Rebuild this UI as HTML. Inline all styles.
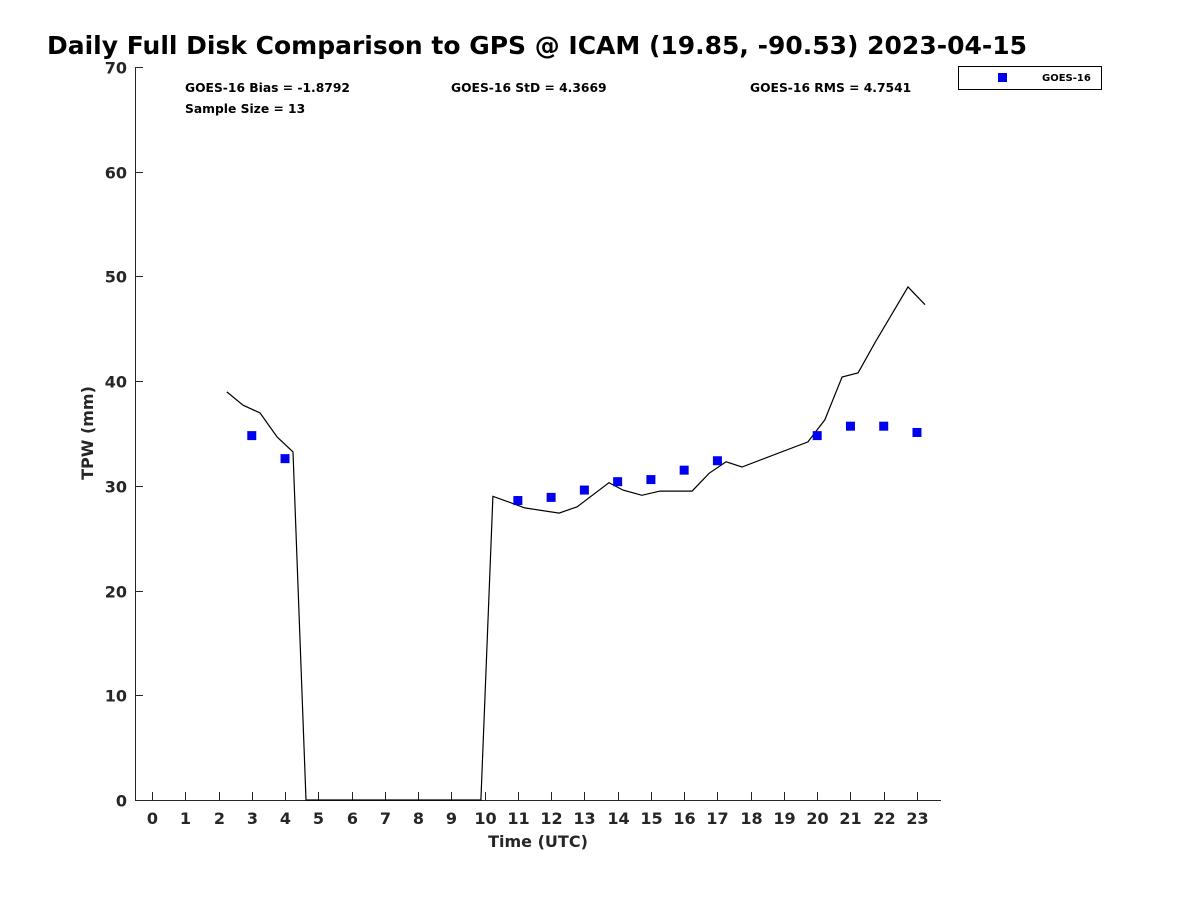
<!DOCTYPE html>
<html><head><meta charset="utf-8"><style>
body{margin:0;background:#fff;}
svg{display:block;font-family:"DejaVu Sans","Liberation Sans",sans-serif;font-weight:bold;}
</style></head><body>
<svg width="1200" height="900" viewBox="0 0 1200 900">
<text x="47" y="54" font-size="25" fill="#000" textLength="980" lengthAdjust="spacingAndGlyphs">Daily Full Disk Comparison to GPS @ ICAM (19.85, -90.53) 2023-04-15</text>
<g id="axes"></g>
<g id="marks"></g>
<text x="185" y="92" font-size="12.3">GOES-16 Bias = -1.8792</text>
<text x="185" y="113" font-size="12.3">Sample Size = 13</text>
<text x="451" y="92" font-size="12.3">GOES-16 StD = 4.3669</text>
<text x="750" y="92" font-size="12.3">GOES-16 RMS = 4.7541</text>
<g>
<rect x="958.5" y="66.5" width="143" height="23" fill="#fff" stroke="#000" stroke-width="1"/>
<rect x="998" y="73" width="9" height="9" fill="#0000ee"/>
<text x="1042" y="81" font-size="10">GOES-16</text>
</g>
<text x="538" y="847" font-size="16" fill="#262626" text-anchor="middle">Time (UTC)</text>
<text transform="translate(93,433) rotate(-90)" font-size="16" fill="#262626" text-anchor="middle">TPW (mm)</text>
</svg>
<script>
const gpsTimes=[2.25,2.74,3.25,3.76,4.24,4.63,9.89,10.25,11.21,12.24,12.78,13.74,14.16,14.73,15.27,16.24,16.75,17.26,17.74,19.72,20.23,20.75,21.23,21.74,22.73,23.24];
const gpsValues=[38.97,37.7,36.96,34.67,33.24,0,0,29.0,27.9,27.4,28.0,30.3,29.6,29.1,29.5,29.5,31.2,32.3,31.8,34.2,36.3,40.4,40.8,43.7,49.0,47.3];
const goesTimes=[3,4,11,12,13,14,15,16,17,20,21,22,23];
const goesValues=[34.8,32.6,28.6,28.9,29.6,30.4,30.6,31.5,32.4,34.8,35.7,35.7,35.1];
const xTicks=[0,1,2,3,4,5,6,7,8,9,10,11,12,13,14,15,16,17,18,19,20,21,22,23];
const yTicks=[0,10,20,30,40,50,60,70];
const NS='http://www.w3.org/2000/svg';
const X=h=>152+h*33.26, Y=v=>800-v*10.471;
function mk(tag,attrs,parent){const e=document.createElementNS(NS,tag);for(const k in attrs)e.setAttribute(k,attrs[k]);parent.appendChild(e);return e;}
const ax=document.getElementById('axes'), mg=document.getElementById('marks');
let e=mk('line',{x1:135.5,y1:67,x2:135.5,y2:800.5,stroke:'#262626'},ax);


e=mk('line',{x1:135,y1:800.5,x2:941,y2:800.5,stroke:'#262626'},ax);


yTicks.forEach(v=>{
 const y=Math.round(Y(v))+0.5;
 let t=mk('line',{x1:135,y1:y,x2:143,y2:y,stroke:'#262626'},ax);
 
 
 let l=mk('text',{x:127,y:y+6,'font-size':16,'text-anchor':'end',fill:'#262626'},ax);l.textContent=v;
 
 
});
xTicks.forEach(h=>{
 const x=Math.round(X(h))+0.5;
 let t=mk('line',{x1:x,y1:800,x2:x,y2:792,stroke:'#262626'},ax);
 
 
 let l=mk('text',{x:x,y:824,'font-size':16,'text-anchor':'middle',fill:'#262626'},ax);l.textContent=h;
 
 
});
const pts=gpsTimes.map((t,i)=>X(t).toFixed(1)+','+Y(gpsValues[i]).toFixed(1)).join(' ');
let pl=mk('polyline',{points:pts,fill:'none',stroke:'#000','stroke-width':1.2},mg);


goesTimes.forEach((t,i)=>{
 let r=mk('rect',{x:X(t)-4.5,y:Y(goesValues[i])-4.5,width:9,height:9,fill:'#0000ee'},mg);
 
 
});
</script>
</body></html>
